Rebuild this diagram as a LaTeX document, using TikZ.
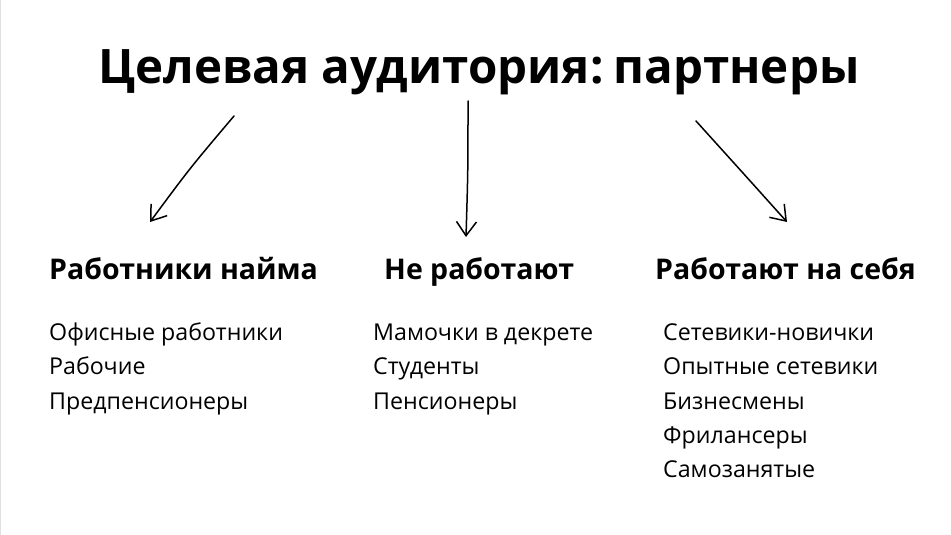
\documentclass[tikz,border=0pt]{standalone}
\usepackage{fontspec}
\setmainfont{Open Sans}
\usetikzlibrary{arrows.meta}
\tikzset{
  heading/.style={anchor=base west, font=\fontsize{28.5}{33}\selectfont\bfseries, inner sep=0pt},
  item/.style={anchor=base west, font=\fontsize{23.2}{27}\selectfont, inner sep=0pt},
  sketch/.style={line width=1.5pt, line cap=round, -{Straight Barb[length=14pt,width=20pt,line width=1.5pt]}}
}
\begin{document}
\begin{tikzpicture}[x=1pt,y=-1pt]
\useasboundingbox (0,0) rectangle (951,535);
\fill[white] (0,0) rectangle (951,535);
\draw[black!12] (0.5,0) -- (0.5,535);
% title
\node[anchor=base, font=\fontsize{47.5}{56}\selectfont\bfseries, inner sep=0pt] (title) at (479,84) {Целевая аудитория:\kern-2pt\ партнеры};
% arrows
\coordinate (a1s) at (234,116); \coordinate (a1e) at (150,222);
\coordinate (a2s) at (468,101); \coordinate (a2e) at (466,237);
\coordinate (a3s) at (696,121); \coordinate (a3e) at (787,222);
\draw[sketch] (a1s) .. controls (190,168) .. (a1e);
\draw[sketch] (a2s) .. controls (468,170) .. (a2e);
\draw[sketch] (a3s) .. controls (743,173) .. (a3e);
% columns
\node[heading] (h1) at (49,279) {Работники найма};
\node[heading] (h2) at (384,279) {Не работают};
\node[heading] (h3) at (655,279) {Работают на себя};
\node[item] (l1a) at (49,340) {Офисные работники};
\node[item] (l1b) at (49,374) {Рабочие};
\node[item] (l1c) at (49,409) {Предпенсионеры};
\node[item] (l2a) at (373,340) {Мамочки в декрете};
\node[item] (l2b) at (373,374) {Студенты};
\node[item] (l2c) at (373,409) {Пенсионеры};
\node[item] (l3a) at (663,340) {Сетевики-новички};
\node[item] (l3b) at (663,374) {Опытные сетевики};
\node[item] (l3c) at (663,409) {Бизнесмены};
\node[item] (l3d) at (663,443) {Фрилансеры};
\node[item] (l3e) at (663,477) {Самозанятые};
\end{tikzpicture}
\end{document}
